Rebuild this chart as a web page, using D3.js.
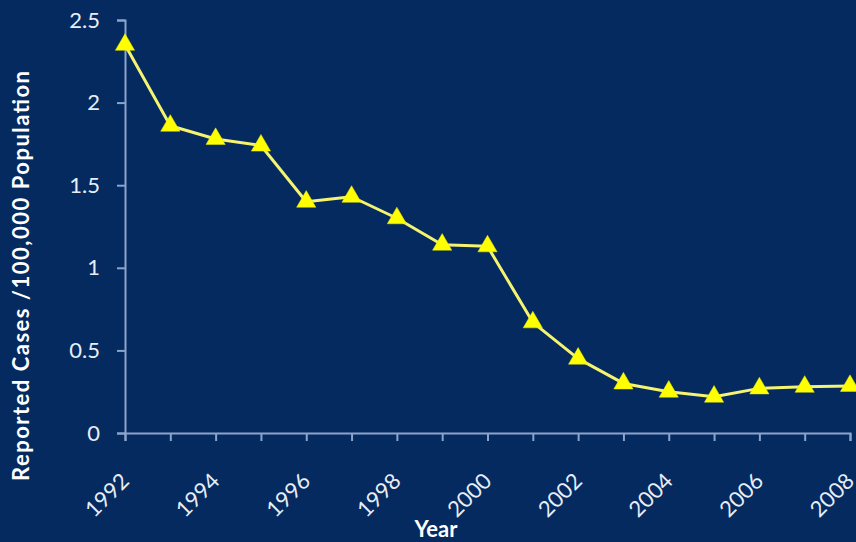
<!DOCTYPE html>
<html><head><meta charset="utf-8">
<script src="https://cdn.jsdelivr.net/npm/d3@7"></script>
<style>
html,body{margin:0;padding:0;background:#042a60;overflow:hidden;}
svg{display:block;}
</style></head>
<body>
<svg id="chart" width="856" height="542"></svg>
<script>
const years = [1992,1993,1994,1995,1996,1997,1998,1999,2000,2001,2002,2003,2004,2005,2006,2007,2008];
const rates = [2.35,1.86,1.78,1.74,1.40,1.43,1.30,1.14,1.13,0.67,0.45,0.30,0.25,0.22,0.27,0.28,0.285];
const yTicks = [0,0.5,1,1.5,2,2.5];
const xTickLabels = [1992,1994,1996,1998,2000,2002,2004,2006,2008];
const yTitle = "Reported Cases /100,000 Population";
const xTitle = "Year";

const svg = d3.select("#chart");
const W = 856, H = 542;
svg.append("rect").attr("width",W).attr("height",H).attr("fill","#042a60");
const m = {left:125, right:6, top:20, bottom:109};
const x = d3.scaleLinear().domain([1992,2008]).range([m.left, W - m.right]);
const y = d3.scaleLinear().domain([0,2.5]).range([H - m.bottom, m.top]);

const axisColor = "#8ba4cc";
const font = "Lato, 'Open Sans', 'DejaVu Sans', sans-serif";
const txtColor = "#e8edf6";

// y axis
const ya = svg.append("g").attr("transform",`translate(${m.left},0)`)
  .call(d3.axisLeft(y).tickValues(yTicks).tickSize(8).tickPadding(17).tickFormat(d3.format("")));
// x axis
const xa = svg.append("g").attr("transform",`translate(0,${y(0)})`)
  .call(d3.axisBottom(x).tickValues(years).tickSize(8).tickFormat(""));
[ya,xa].forEach(g=>{
  g.select(".domain").attr("stroke",axisColor).attr("stroke-width",2);
  g.selectAll(".tick line").attr("stroke",axisColor).attr("stroke-width",2);
});
ya.selectAll(".tick text").attr("fill",txtColor).attr("font-family",font).attr("font-size",22);

// x labels rotated
svg.append("g").selectAll("text").data(xTickLabels).join("text")
  .attr("transform",d=>`translate(${x(d)},${y(0)+44}) rotate(-45)`)
  .attr("text-anchor","end").attr("dy","0.35em")
  .attr("fill",txtColor).attr("font-family",font).attr("font-size",22)
  .text(d=>d);

// line
const line = d3.line().x((d,i)=>x(years[i])).y(d=>y(d));
svg.append("path").datum(rates).attr("d",line)
  .attr("fill","none").attr("stroke","#f4f470").attr("stroke-width",3).attr("stroke-linejoin","round");
// markers
const tri = d3.symbol().type(d3.symbolTriangle).size(160);
svg.append("g").selectAll("path").data(rates).join("path")
  .attr("d",tri)
  .attr("transform",(d,i)=>`translate(${x(years[i])},${y(d)})`)
  .attr("fill","#ffff00").attr("stroke","#e8e800").attr("stroke-width",0.5);

// titles
svg.append("text")
  .attr("transform",`translate(29,276) rotate(-90)`)
  .attr("text-anchor","middle")
  .attr("fill","#ffffff").attr("font-family",font).attr("font-weight","bold").attr("font-size",22)
  .attr("textLength",410).attr("lengthAdjust","spacing")
  .text(yTitle);
svg.append("text")
  .attr("x",436).attr("y",537).attr("text-anchor","middle")
  .attr("fill","#ffffff").attr("font-family",font).attr("font-weight","bold").attr("font-size",22)
  .text(xTitle);
</script>
</body></html>
